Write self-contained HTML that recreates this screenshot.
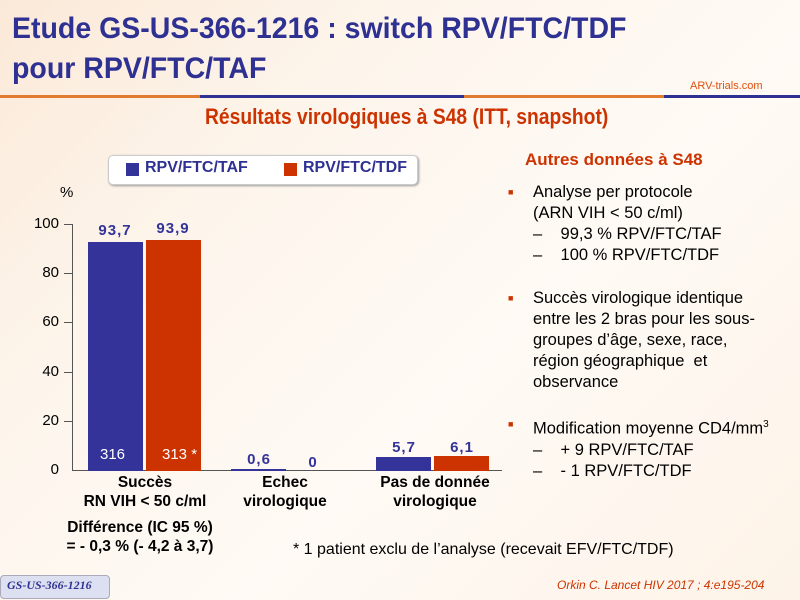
<!DOCTYPE html>
<html><head><meta charset="utf-8"><style>
body{margin:0;width:800px;height:600px;overflow:hidden;position:relative;background:linear-gradient(135deg,#fbe9d8 0%,#fdf5ec 30%,#fffaf5 60%,#fdf3e8 100%);font-family:"Liberation Sans",sans-serif}
.a{position:absolute;white-space:nowrap}
.t{color:#2e3192;font-weight:bold;font-size:30px;left:12px;transform:scaleX(0.95);transform-origin:left}
.bar{position:absolute}
.B{background:#333399}.R{background:#cc3300}
.v{position:absolute;color:#333399;font-weight:bold;font-size:15px;text-align:center;width:56px;letter-spacing:1px}
.y{position:absolute;font-size:15px;color:#000;width:30px;text-align:right;left:29px}
.tk{position:absolute;left:64px;width:8px;height:1px;background:#555}
.c{position:absolute;font-weight:bold;font-size:15.5px;text-align:center;line-height:19px}
.r{font-size:16.5px;color:#000;line-height:21px}
.sq{color:#cc3300;font-size:9px;position:absolute}
</style></head><body>
<div class="a t" style="top:12px">Etude GS-US-366-1216 : switch RPV/FTC/TDF</div>
<div class="a t" style="top:52px">pour RPV/FTC/TAF</div>
<div class="a" style="left:0;top:95px;width:800px;height:3px;background:linear-gradient(90deg,#e07b30 0 25%,#2e3192 25% 58%,#e07b30 58% 83%,#2e3192 83%)"></div>
<div class="a" style="left:690px;top:80px;font-size:11px;color:#e05010;background:#fff8f0">ARV-trials.com</div>
<div class="a" style="left:205px;top:104px;font-size:22px;font-weight:bold;color:#cc3300;transform:scaleX(0.875);transform-origin:left">Résultats virologiques à S48 (ITT, snapshot)</div>
<div class="a" style="left:108px;top:155px;width:308px;height:28px;background:#fff;border:1px solid #ccc;border-radius:5px;box-shadow:1px 1px 2px #999"></div>
<div class="a B" style="left:126px;top:163px;width:13px;height:13px"></div>
<div class="a" style="left:145px;top:159px;font-size:16px;color:#2e3192;font-weight:bold">RPV/FTC/TAF</div>
<div class="a R" style="left:284px;top:163px;width:13px;height:13px"></div>
<div class="a" style="left:303px;top:159px;font-size:16px;color:#2e3192;font-weight:bold">RPV/FTC/TDF</div>
<div class="a" style="left:60px;top:184px;font-size:15px">%</div>
<div class="a" style="left:72px;top:224px;width:1px;height:247px;background:#555"></div>
<div class="a" style="left:72px;top:470px;width:430px;height:1px;background:#555"></div>
<div class="tk" style="top:224px"></div><div class="tk" style="top:273px"></div><div class="tk" style="top:322px"></div><div class="tk" style="top:372px"></div><div class="tk" style="top:421px"></div>
<div class="y" style="top:215px">100</div><div class="y" style="top:264px">80</div><div class="y" style="top:313px">60</div><div class="y" style="top:363px">40</div><div class="y" style="top:412px">20</div><div class="y" style="top:461px">0</div>
<div class="bar B" style="left:88px;top:242px;width:55px;height:229px"></div>
<div class="bar R" style="left:146px;top:240px;width:55px;height:231px"></div>
<div class="bar B" style="left:231px;top:469px;width:55px;height:2px"></div>
<div class="bar B" style="left:376px;top:457px;width:55px;height:14px"></div>
<div class="bar R" style="left:434px;top:456px;width:55px;height:15px"></div>
<div class="v" style="left:87px;top:222px">93,7</div><div class="v" style="left:145px;top:220px">93,9</div>
<div class="v" style="left:231px;top:451px">0,6</div><div class="v" style="left:285px;top:454px">0</div>
<div class="v" style="left:376px;top:439px">5,7</div><div class="v" style="left:434px;top:439px">6,1</div>
<div class="a" style="left:100px;top:446px;color:#fff;font-size:15px">316</div>
<div class="a" style="left:162px;top:446px;color:#fff;font-size:15px">313 *</div>
<div class="c" style="left:55px;top:473px;width:180px">Succès<br>RN VIH &lt; 50 c/ml</div>
<div class="c" style="left:210px;top:473px;width:150px">Echec<br>virologique</div>
<div class="c" style="left:355px;top:473px;width:160px">Pas de donnée<br>virologique</div>
<div class="c" style="left:45px;top:518px;width:190px">Différence (IC 95 %)<br>= - 0,3 % (- 4,2 à 3,7)</div>
<div class="a" style="left:293px;top:541px;font-size:16px">* 1 patient exclu de l’analyse (recevait EFV/FTC/TDF)</div>
<div class="a" style="left:525px;top:150px;font-size:17px;font-weight:bold;color:#cc3300">Autres données à S48</div>
<div class="a r" style="left:510px;top:182px">
<div><span class="sq" style="left:-2px">■</span><div style="margin-left:23px">Analyse per protocole<br>(ARN VIH &lt; 50 c/ml)</div></div>
<div style="margin-left:23px">–&nbsp;&nbsp;&nbsp;&nbsp;99,3 % RPV/FTC/TAF<br>–&nbsp;&nbsp;&nbsp;&nbsp;100 % RPV/FTC/TDF</div>
<div style="height:22px"></div>
<div style="position:relative"><span class="sq" style="left:-2px">■</span><div style="margin-left:23px">Succès virologique identique<br>entre les 2 bras pour les sous-<br>groupes d’âge, sexe, race,<br>région géographique&nbsp; et<br>observance</div></div>
<div style="height:21px"></div>
<div style="position:relative"><span class="sq" style="left:-2px">■</span><div style="margin-left:23px">Modification moyenne CD4/mm<sup style="font-size:10px">3</sup></div></div>
<div style="margin-left:23px">–&nbsp;&nbsp;&nbsp;&nbsp;+ 9 RPV/FTC/TAF<br>–&nbsp;&nbsp;&nbsp;&nbsp;- 1 RPV/FTC/TDF</div>
</div>
<div class="a" style="left:0;top:575px;width:108px;height:22px;background:#dde0f0;border:1px solid #aab;border-radius:4px"></div>
<div class="a" style="left:7px;top:578px;font-family:'Liberation Serif',serif;font-style:italic;font-weight:bold;font-size:12px;color:#2e3192">GS-US-366-1216</div>
<div class="a" style="left:557px;top:578px;font-size:12px;font-style:italic;color:#cc3300">Orkin C. Lancet HIV 2017 ; 4:e195-204</div>
</body></html>
